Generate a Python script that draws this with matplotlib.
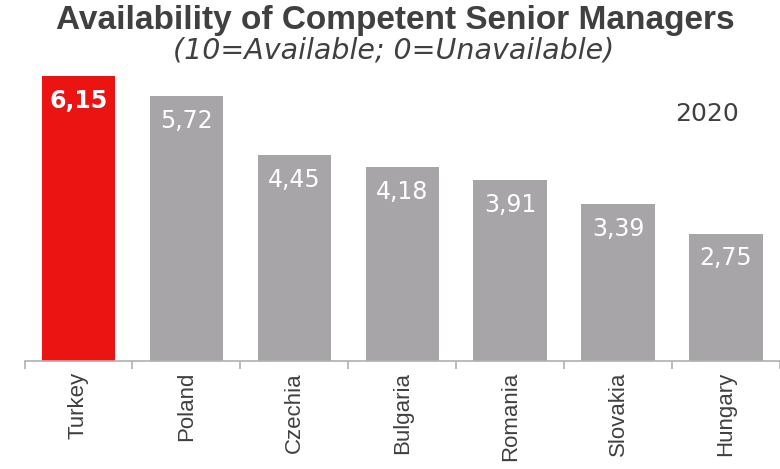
import matplotlib
matplotlib.use("Agg")
import matplotlib.pyplot as plt
import numpy as np

categories = ["Turkey", "Poland", "Czechia", "Bulgaria", "Romania", "Slovakia", "Hungary"]
values = [6.15, 5.72, 4.45, 4.18, 3.91, 3.39, 2.75]
labels = ["6,15", "5,72", "4,45", "4,18", "3,91", "3,39", "2,75"]
colors = ["#EC1313"] + ["#A7A5A8"] * 6

plt.rcParams['font.family'] = ['Liberation Sans', 'DejaVu Sans']

W, H = 780, 469
fig = plt.figure(figsize=(W / 100, H / 100), dpi=100)
left_px, right_px = 24.5, 780
spacing = 109.3
base_px = 361
ppu = 46.3
ymax = 7.0
top_px = base_px - ymax * ppu
ax = fig.add_axes([left_px / W, 1 - base_px / H, (right_px - left_px) / W, (base_px - top_px) / H])

x = np.arange(len(categories))
ax.bar(x, values, width=0.68, color=colors, zorder=2)
ax.set_xlim(-0.5, -0.5 + (right_px - left_px) / spacing)
ax.set_ylim(0, ymax)

for i, (v, lab) in enumerate(zip(values, labels)):
    ax.text(i, v - 0.53, lab, ha='center', va='center', color='white', fontsize=17,
            family='DejaVu Sans', fontweight='bold' if i == 0 else 'normal')

ax.text(5.82, 5.33, "2020", ha='center', va='center', color='#404040', fontsize=18,
        family='DejaVu Sans')

for s in ['top', 'right', 'left']:
    ax.spines[s].set_visible(False)
ax.spines['bottom'].set_color('#B0B0B0')
ax.spines['bottom'].set_linewidth(1.2)
ax.set_yticks([])
ax.set_xticks(np.arange(-0.5, len(categories) + 0.5, 1.0), minor=False)
ax.set_xticklabels([])
ax.tick_params(axis='x', which='major', length=6, color='#B0B0B0', width=1.2)
ax.set_xticks(x, minor=True)
ax.set_xticklabels(categories, minor=True, rotation=90, fontsize=16, color='#404040')
ax.tick_params(axis='x', which='minor', length=0, pad=8)

fig.text(395 / W, 1 - 21 / H, "Availability of Competent Senior Managers", ha='center', va='center',
         fontsize=24, fontweight='bold', color='#404040')
fig.text(394 / W, 1 - 51 / H, "(10=Available; 0=Unavailable)", ha='center', va='center',
         fontsize=20.5, style='italic', color='#404040', family='DejaVu Sans')

fig.savefig("out.png", dpi=100)
